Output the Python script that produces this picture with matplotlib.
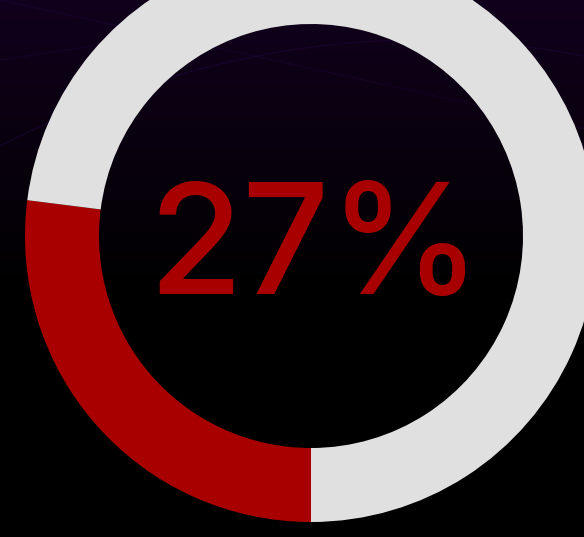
import numpy as np
import matplotlib
matplotlib.use("Agg")
import matplotlib.pyplot as plt
from matplotlib.colors import LinearSegmentedColormap

labels = ["Yes", "Rest"]
values = [27, 73]
colors = ["#a80000", "#e0e0e0"]
center_label = "27%"

W, H = 584, 537
fig = plt.figure(figsize=(W / 100, H / 100), dpi=100)
ax = fig.add_axes([0, 0, 1, 1])
ax.set_axis_off()

# background gradient (top dark purple -> black)
grad = np.linspace(0, 1, 256).reshape(-1, 1)
cmap = LinearSegmentedColormap.from_list("bg", [(0, "#11001c"), (0.55, "#000000"), (1, "#000000")])
ax.imshow(grad, extent=[0, W, 0, H], origin="upper", cmap=cmap, aspect="auto", zorder=0)

# faint decorative lines
t = np.linspace(0, W, 200)
ax.plot(t, H - (40 + 0.0006 * (t - 420) ** 2), color="#2a0a50", lw=1, alpha=0.35, zorder=1)
ax.plot(t, H - (0 + 0.22 * t), color="#2a0a50", lw=1, alpha=0.25, zorder=1)
ax.plot(t, H - (60 - 0.15 * t), color="#2a0a50", lw=1, alpha=0.25, zorder=1)

cx, cy = 311, H - 236
R, w = 286, 74
ax.pie(values, colors=colors, center=(cx, cy), radius=R, startangle=270,
       counterclock=False, wedgeprops=dict(width=w, linewidth=0), frame=True)
for p in ax.patches:
    p.set_zorder(2)

ax.text(cx + 4, cy - 17, center_label, color="#a80000", fontsize=110,
        family=["Inter", "DejaVu Sans"], fontweight="medium",
        ha="center", va="center", zorder=3)

ax.set_xlim(0, W)
ax.set_ylim(0, H)
ax.set_aspect("auto")
ax.set_axis_off()
fig.savefig("out.png", dpi=100, facecolor="black")
